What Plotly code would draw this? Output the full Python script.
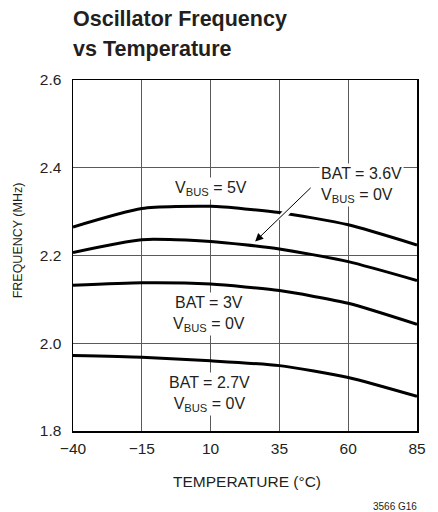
import plotly.graph_objects as go

# ---- data ----
temps = [-40, -15, 10, 35, 60, 85]
vbus_5v = [2.265, 2.307, 2.312, 2.298, 2.270, 2.224]
bat_3v6 = [2.207, 2.236, 2.232, 2.215, 2.186, 2.143]
bat_3v = [2.132, 2.138, 2.135, 2.120, 2.091, 2.043]
bat_2v7 = [1.972, 1.968, 1.960, 1.949, 1.922, 1.879]

x_ticks = [-40, -15, 10, 35, 60, 85]
y_ticks = [1.8, 2.0, 2.2, 2.4, 2.6]

FONT = "Liberation Sans, Arial, Helvetica, sans-serif"
TXT = "#231f20"

fig = go.Figure()
for ys in (vbus_5v, bat_3v6, bat_3v, bat_2v7):
    fig.add_trace(go.Scatter(x=temps, y=ys, mode="lines",
                             line=dict(color="black", width=3, shape="spline", smoothing=0.6),
                             showlegend=False, hoverinfo="skip"))

ann = []
# title
ann.append(dict(text="<b>Oscillator Frequency</b>", xref="paper", yref="paper", x=-0.007, y=1.1726,
                xanchor="left", yanchor="middle", showarrow=False, font=dict(size=21.5, family=FONT, color=TXT)))
ann.append(dict(text="<b>vs Temperature</b>", xref="paper", yref="paper", x=-0.007, y=1.087,
                xanchor="left", yanchor="middle", showarrow=False, font=dict(size=21.5, family=FONT, color=TXT)))
# axis titles
ann.append(dict(text="FREQUENCY (MHz)", xref="paper", yref="paper", x=-0.161, y=0.542, textangle=-90,
                xanchor="center", yanchor="middle", showarrow=False, font=dict(size=12.5, family=FONT, color=TXT)))
ann.append(dict(text="TEMPERATURE (°C)", xref="paper", yref="paper", x=0.506, y=-0.1427,
                xanchor="center", yanchor="middle", showarrow=False, font=dict(size=15.5, family=FONT, color=TXT)))
ann.append(dict(text="3566 G16", xref="paper", yref="paper", x=1.0065, y=-0.2154,
                xanchor="right", yanchor="middle", showarrow=False, font=dict(size=10, family=FONT, color=TXT)))

lab_font = dict(size=16, family=FONT, color=TXT)
ann.append(dict(text="V<sub>BUS</sub> = 5V", x=10.3, y=2.352, xref="x", yref="y", showarrow=False,
                xanchor="center", yanchor="middle", bgcolor="white", font=lab_font))
# white gap in top curve where the arrow crosses
ann.append(dict(text="", x=35.0, y=2.281, ax=39.8, ay=2.314, xref="x", yref="y", axref="x", ayref="y",
                showarrow=True, arrowhead=0, arrowwidth=7, arrowcolor="white", standoff=0, startstandoff=0))
ann.append(dict(text="", x=26.2, y=2.232, ax=46.9, ay=2.3575, xref="x", yref="y", axref="x", ayref="y",
                showarrow=True, arrowhead=2, arrowsize=1.6, arrowwidth=1, arrowcolor="black", standoff=0))
ann.append(dict(text="BAT = 3.6V<br>V<sub>BUS</sub> = 0V", x=49.4, y=2.361, xref="x", yref="y", showarrow=False,
                xanchor="left", yanchor="middle", align="left", bgcolor="white", font=lab_font))
ann.append(dict(text="BAT = 3V<br>V<sub>BUS</sub> = 0V", x=9.5, y=2.066, xref="x", yref="y", showarrow=False,
                xanchor="center", yanchor="middle", align="center", bgcolor="white", font=lab_font))
ann.append(dict(text="BAT = 2.7V<br>V<sub>BUS</sub> = 0V", x=9.5, y=1.884, xref="x", yref="y", showarrow=False,
                xanchor="center", yanchor="middle", align="center", bgcolor="white", font=lab_font))

axis_common = dict(showline=True, linecolor="black", linewidth=1.5, mirror=True,
                   showgrid=True, gridcolor="#5a5a5a", gridwidth=1, zeroline=False, ticks="",
                   tickfont=dict(size=15.5, family=FONT, color=TXT))

fig.update_layout(
    width=438, height=512,
    margin=dict(l=73, r=12, t=80, b=81),
    paper_bgcolor="white", plot_bgcolor="white",
    annotations=ann,
    xaxis=dict(range=[-40, 85], tickvals=x_ticks, ticklabelstandoff=3, **axis_common),
    yaxis=dict(range=[1.8, 2.6], tickvals=y_ticks, tickformat=".1f", ticklabelstandoff=7, **axis_common),
)

fig.write_html("out.html", config={"displayModeBar": False, "staticPlot": True},
               post_script="document.body.style.margin='0';document.body.style.overflow='hidden';")
